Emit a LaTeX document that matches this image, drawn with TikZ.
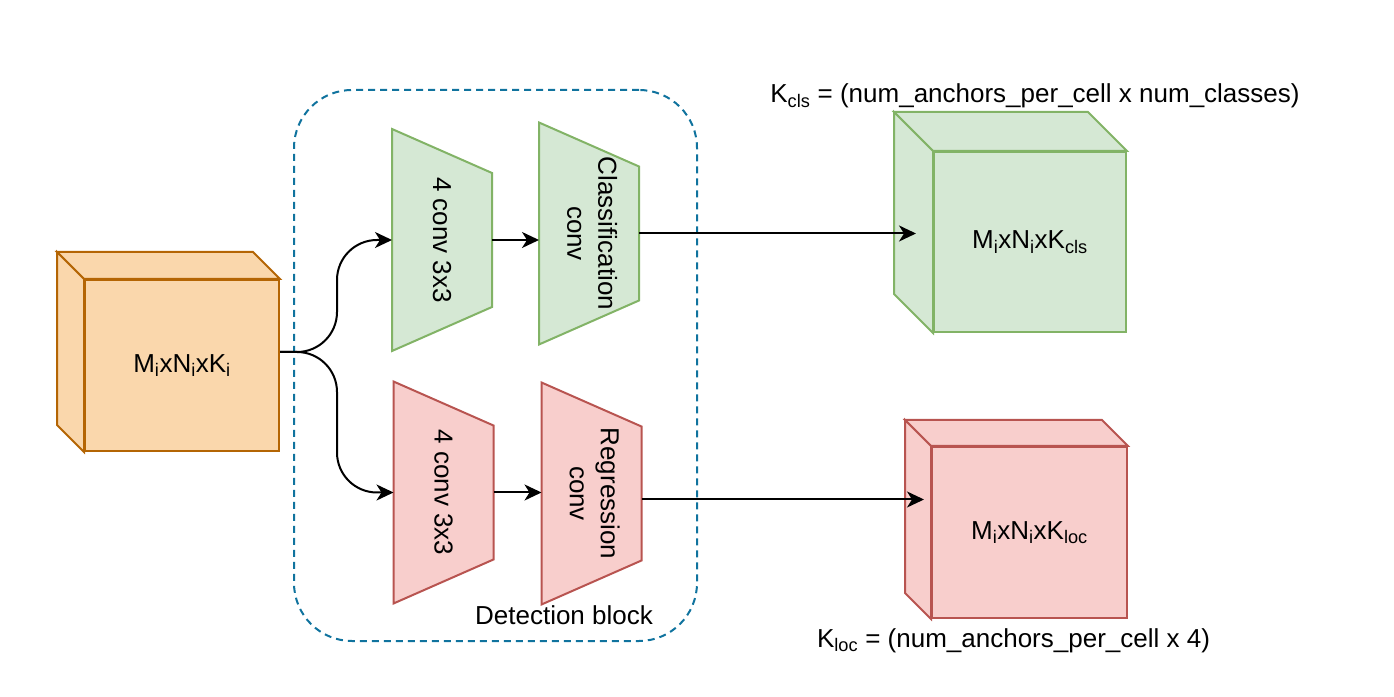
\documentclass[tikz,border=0pt]{standalone}
\usepackage{fontspec}
\setmainfont{Liberation Sans}
\usepackage{graphicx}
\usetikzlibrary{arrows.meta, backgrounds}

\definecolor{orFill}{HTML}{FAD7AC}
\definecolor{orLine}{HTML}{B46504}
\definecolor{grFill}{HTML}{D5E8D4}
\definecolor{grLine}{HTML}{82B366}
\definecolor{rdFill}{HTML}{F8CECC}
\definecolor{rdLine}{HTML}{B85450}
\definecolor{blkLine}{HTML}{10739E}

\tikzset{
    orangeshape/.style={fill=orFill, draw=orLine, line width=2pt},
    greenshape/.style={fill=grFill, draw=grLine, line width=2pt},
    redshape/.style={fill=rdFill, draw=rdLine, line width=2pt},
    face/.style={rectangle, inner sep=0pt, align=center},
    trap/.style={rectangle, minimum width=98pt, minimum height=220pt, inner sep=0pt},
    conn/.style={->, black, line width=2pt},
}

\begin{document}
\begin{tikzpicture}[x=1pt, y=1pt, >={Stealth[length=17pt, width=16pt, inset=5pt]}, line width=2pt, font=\fontsize{26}{31}\selectfont]
    \useasboundingbox (0,0) rectangle (1394,696);
    % Input feature map
    \node[face, orangeshape, minimum width=194pt, minimum height=171pt] (inp) at (182,330.5) {M\textsubscript{i}xN\textsubscript{i}xK\textsubscript{i}};
    \filldraw[orangeshape] (inp.north west) -- ++(-27,27) -- ([shift={(-27,27)}]inp.north east) -- (inp.north east) -- cycle;
    \filldraw[orangeshape] (inp.north west) -- ++(-27,27) -- ([shift={(-27,27)}]inp.south west) -- (inp.south west) -- cycle;
    % Detection block
    \node[draw=blkLine, line width=2pt, dash pattern=on 7pt off 5pt, rounded corners=58pt, minimum width=403pt, minimum height=551pt] (det) at (495.5,330.5) {};
    \node[anchor=base] (dettxt) at (564,71) {Detection block};
    % Heads
    \node[trap] (g1) at (442,456) {\rotatebox{-90}{4 conv 3x3}};
    \node[trap] (g2) at (589,462.5) {\rotatebox{-90}{\begin{tabular}{@{}c@{}}Classification\\conv\end{tabular}}};
    \node[trap] (r1) at (443.5,203.5) {\rotatebox{-90}{4 conv 3x3}};
    \node[trap] (r2) at (591.5,202.5) {\rotatebox{-90}{\begin{tabular}{@{}c@{}}Regression\\conv\end{tabular}}};
    \begin{scope}[on background layer]
        \foreach \n in {g1,g2}
            \filldraw[greenshape] (\n.north west) -- ([yshift=-44pt]\n.north east) -- ([yshift=44pt]\n.south east) -- (\n.south west) -- cycle;
        \foreach \n in {r1,r2}
            \filldraw[redshape] (\n.north west) -- ([yshift=-44pt]\n.north east) -- ([yshift=44pt]\n.south east) -- (\n.south west) -- cycle;
    \end{scope}
    % Output maps
    \node[face, greenshape, minimum width=192pt, minimum height=180pt] (cls) at (1030,454) {M\textsubscript{i}xN\textsubscript{i}xK\textsubscript{cls}};
    \filldraw[greenshape] (cls.north west) -- ++(-39,39) -- ([shift={(-39,39)}]cls.north east) -- (cls.north east) -- cycle;
    \filldraw[greenshape] (cls.north west) -- ++(-39,39) -- ([shift={(-39,39)}]cls.south west) -- (cls.south west) -- cycle;
    \node[face, redshape, minimum width=195pt, minimum height=171pt] (loc) at (1029.5,163.5) {M\textsubscript{i}xN\textsubscript{i}xK\textsubscript{loc}};
    \filldraw[redshape] (loc.north west) -- ++(-26,26) -- ([shift={(-26,26)}]loc.north east) -- (loc.north east) -- cycle;
    \filldraw[redshape] (loc.north west) -- ++(-26,26) -- ([shift={(-26,26)}]loc.south west) -- (loc.south west) -- cycle;
    \node[anchor=base] (kcls) at (1035,593) {K\textsubscript{cls} = (num\_anchors\_per\_cell x num\_classes)};
    \node[anchor=base] (kloc) at (1013.5,49) {K\textsubscript{loc} = (num\_anchors\_per\_cell x 4)};
    % Connections
    \draw[conn, rounded corners=40pt] ([yshift=13.5pt]inp.east) -- ++(57,0) |- (g1.west);
    \draw[conn, rounded corners=40pt] ([yshift=13.5pt]inp.east) -- ++(57,0) |- (r1.west);
    \draw[conn] (g1.east) -- (g1.east -| g2.west);
    \draw[conn] (r1.east) -- (r1.east -| r2.west);
    \draw[conn] (g2.east) -- ([xshift=-17pt]g2.east -| cls.west);
    \draw[conn] ([yshift=-6pt]r2.east) -- ([xshift=-7pt,yshift=-6pt]r2.east -| loc.west);
\end{tikzpicture}
\end{document}
